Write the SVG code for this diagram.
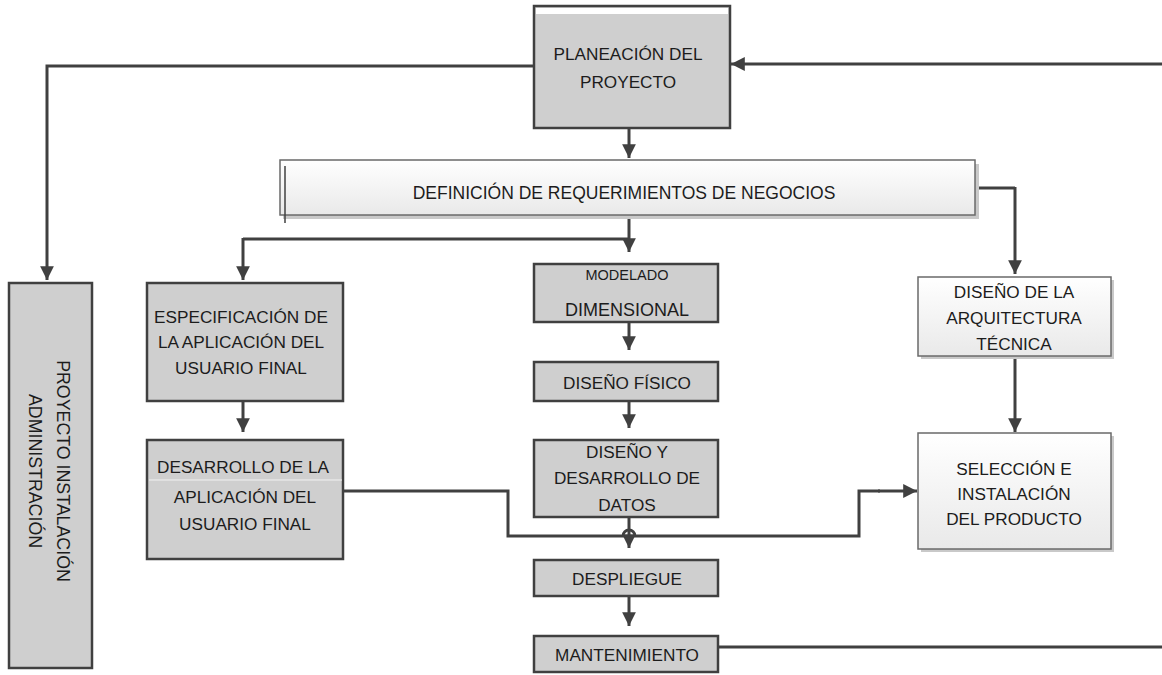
<svg xmlns="http://www.w3.org/2000/svg" width="1162" height="675" viewBox="0 0 1162 675">
<defs>
<linearGradient id="lg" x1="0" y1="0" x2="0" y2="1">
<stop offset="0" stop-color="#ffffff"/>
<stop offset="1" stop-color="#e9e9e9"/>
</linearGradient>
<marker id="ah" viewBox="0 0 10 10" refX="10" refY="5" markerWidth="4.6" markerHeight="4.6" markerUnits="strokeWidth" orient="auto">
<path d="M0,0 L10,5 L0,10 z" fill="#404040"/>
</marker>
</defs>
<style>
.g{fill:#cfcfcf;stroke:#404040;stroke-width:2.5}
.l{fill:url(#lg);stroke:#6a6a6a;stroke-width:1.5}
.sh{fill:#c9c9c9}
.t{font-family:"Liberation Sans",Arial,sans-serif;font-size:17.2px;fill:#1c1c1c;text-anchor:middle}
.c{fill:none;stroke:#404040;stroke-width:3}
.ca{fill:none;stroke:#404040;stroke-width:3;marker-end:url(#ah)}
</style>
<rect width="1162" height="675" fill="#ffffff"/>

<g id="connectors">
<path class="ca" d="M534,66 H47 V280"/>
<path class="ca" d="M1162,64 H731"/>
<path class="ca" d="M629,128 V158"/>
<path class="ca" d="M629,215 V252"/>
<path class="c" d="M629,239 H243"/>
<path class="ca" d="M243,238 V280"/>
<path class="c" d="M975,188 H1015"/>
<path class="ca" d="M1015,187 V274"/>
<path class="ca" d="M243,401 V432"/>
<path class="ca" d="M629,322 V350"/>
<path class="ca" d="M629,401 V428"/>
<path class="ca" d="M629,517 V548"/>
<path class="ca" d="M629,596 V626"/>
<path class="ca" d="M1015,356 V432"/>
<path class="c" d="M344,491 H508 V536 H623 A6,6 0 0 1 635,536 H859 V491 H880"/>
<path class="ca" d="M878,491 H917"/>
<path class="c" d="M718,647 H1162"/>
</g>

<g id="planeacion">
<rect class="g" x="534" y="6" width="196" height="122"/>
<rect x="536" y="8" width="192" height="6" fill="#ffffff"/>
<text class="t" x="628" y="60">PLANEACIÓN DEL</text>
<text class="t" x="628" y="88">PROYECTO</text>
</g>

<g id="definicion">
<rect class="sh" x="283" y="164" width="696" height="55"/>
<rect class="l" x="280" y="160" width="695" height="55"/>
<line x1="285" y1="166" x2="285" y2="223" stroke="#404040" stroke-width="1.5"/>
<text class="t" x="624" y="199" style="font-size:17.5px">DEFINICIÓN DE REQUERIMIENTOS DE NEGOCIOS</text>
</g>

<g id="administracion">
<rect class="g" x="9" y="283" width="83" height="385"/>
<text class="t" transform="translate(57,471) rotate(90)" style="font-size:17.8px">PROYECTO INSTALACIÓN</text>
<text class="t" transform="translate(29,471) rotate(90)" style="font-size:17.8px">ADMINISTRACIÓN</text>
</g>

<g id="especificacion">
<rect class="g" x="147" y="283" width="196" height="118"/>
<text class="t" x="241" y="323">ESPECIFICACIÓN DE</text>
<text class="t" x="241" y="348">LA APLICACIÓN DEL</text>
<text class="t" x="241" y="374">USUARIO FINAL</text>
</g>

<g id="desarrollo">
<rect class="g" x="147" y="440" width="196" height="119"/>
<line x1="149" y1="480" x2="342" y2="480" stroke="#f2f2f2" stroke-width="1"/>
<text class="t" x="243" y="473">DESARROLLO DE LA</text>
<text class="t" x="245" y="503">APLICACIÓN DEL</text>
<text class="t" x="245" y="530">USUARIO FINAL</text>
</g>

<g id="modelado">
<rect class="g" x="534" y="264" width="184" height="58"/>
<text class="t" x="627" y="280" style="font-size:14.5px">MODELADO</text>
<text class="t" x="627" y="316" style="font-size:18px">DIMENSIONAL</text>
</g>

<g id="fisico">
<rect class="g" x="534" y="362" width="184" height="39"/>
<text class="t" x="627" y="389">DISEÑO FÍSICO</text>
</g>

<g id="datos">
<rect class="g" x="534" y="440" width="184" height="77"/>
<text class="t" x="627" y="458">DISEÑO Y</text>
<text class="t" x="627" y="484">DESARROLLO DE</text>
<text class="t" x="627" y="511">DATOS</text>
</g>

<g id="despliegue">
<rect class="g" x="534" y="560" width="184" height="36"/>
<text class="t" x="627" y="585">DESPLIEGUE</text>
</g>

<g id="mantenimiento">
<rect class="g" x="534" y="636" width="184" height="36"/>
<text class="t" x="627" y="661">MANTENIMIENTO</text>
</g>

<g id="arquitectura">
<rect class="sh" x="921" y="280" width="193" height="79"/>
<rect class="l" x="918" y="277" width="193" height="79"/>
<text class="t" x="1014" y="298">DISEÑO DE LA</text>
<text class="t" x="1014" y="324">ARQUITECTURA</text>
<text class="t" x="1014" y="350">TÉCNICA</text>
</g>

<g id="seleccion">
<rect class="sh" x="921" y="436" width="193" height="116"/>
<rect class="l" x="918" y="433" width="193" height="116"/>
<text class="t" x="1014" y="475">SELECCIÓN E</text>
<text class="t" x="1014" y="500">INSTALACIÓN</text>
<text class="t" x="1014" y="525">DEL PRODUCTO</text>
</g>
</svg>
